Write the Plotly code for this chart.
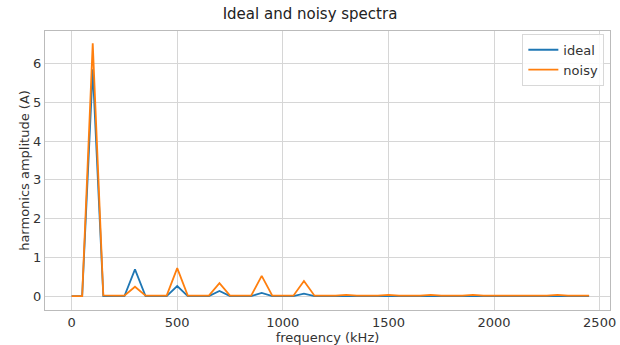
import plotly.graph_objects as go

freq_khz = [0, 50, 100, 150, 200, 250, 300, 350, 400, 450, 500, 550, 600, 650, 700, 750,
            800, 850, 900, 950, 1000, 1050, 1100, 1150, 1200, 1250, 1300, 1350, 1400, 1450,
            1500, 1550, 1600, 1650, 1700, 1750, 1800, 1850, 1900, 1950, 2000, 2050, 2100,
            2150, 2200, 2250, 2300, 2350, 2400, 2450]
ideal = [0, 0, 5.85, 0, 0, 0, 0.69, 0, 0, 0, 0.26, 0, 0, 0, 0.13, 0,
         0, 0, 0.08, 0, 0, 0, 0.06, 0, 0, 0, 0.01, 0, 0, 0,
         0.01, 0, 0, 0, 0.01, 0, 0, 0, 0.01, 0, 0, 0, 0.01,
         0, 0, 0, 0.01, 0, 0, 0]
noisy = [0, 0, 6.52, 0.02, 0.01, 0.01, 0.24, 0.01, 0.01, 0.01, 0.72, 0.01, 0.01, 0.01, 0.33, 0.01,
         0.01, 0.01, 0.52, 0.01, 0.01, 0.01, 0.39, 0.01, 0.01, 0.01, 0.03, 0.01, 0.01, 0.01,
         0.03, 0.01, 0.01, 0.01, 0.03, 0.01, 0.01, 0.01, 0.03, 0.01, 0.01, 0.01, 0.02,
         0.01, 0.01, 0.01, 0.03, 0.01, 0.01, 0.01]

x_ticks = [0, 500, 1000, 1500, 2000, 2500]
y_ticks = [0, 1, 2, 3, 4, 5, 6]

fig = go.Figure()
fig.add_trace(go.Scatter(x=freq_khz, y=ideal, mode="lines", name="ideal",
                         line=dict(color="#1f77b4", width=1.8)))
fig.add_trace(go.Scatter(x=freq_khz, y=noisy, mode="lines", name="noisy",
                         line=dict(color="#ff7f0e", width=1.8)))

font = "DejaVu Sans"
fig.update_layout(
    width=620, height=345,
    margin=dict(l=45, r=10, t=31, b=35, autoexpand=False),
    paper_bgcolor="white", plot_bgcolor="white",
    font=dict(family=font, size=13, color="#333333"),
    title=dict(text="Ideal and noisy spectra", x=0.5, xanchor="center",
               y=0.975, yanchor="top", automargin=False,
               font=dict(size=15, color="#222222")),
    showlegend=True,
    legend=dict(x=0.99, y=0.99, xanchor="right", yanchor="top",
                bgcolor="rgba(255,255,255,0.85)", bordercolor="#d8d8d8", borderwidth=1,
                font=dict(size=13, color="#333333")),
    xaxis=dict(range=[-126, 2549], tickvals=x_ticks, showgrid=True, gridcolor="#d6d6d6",
               zeroline=False, showline=True, linecolor="#bbbbbb", mirror=True,
               automargin=False, ticks="",
               title=dict(text="frequency (kHz)", standoff=0, font=dict(size=13))),
    yaxis=dict(range=[-0.36, 6.84], tickvals=y_ticks, showgrid=True, gridcolor="#d6d6d6",
               zeroline=False, showline=True, linecolor="#bbbbbb", mirror=True,
               automargin=False, ticks="",
               title=dict(text="harmonics amplitude (A)", standoff=0, font=dict(size=13))),
)

fig.write_html("out.html", config={"displayModeBar": False},
               post_script="document.body.style.margin='0px';document.body.style.overflow='hidden';")
